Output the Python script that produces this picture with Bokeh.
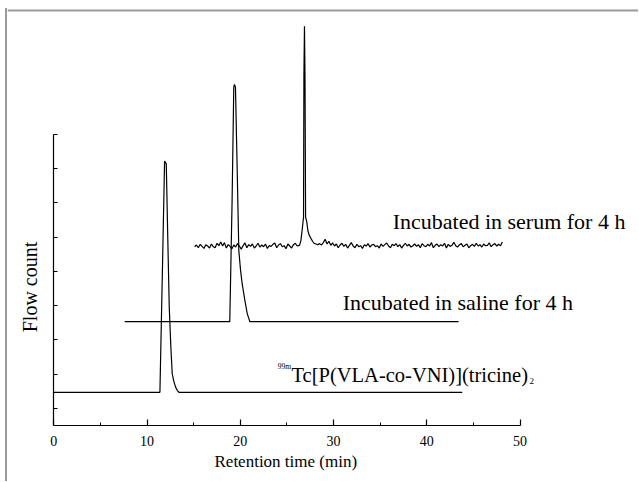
import math
from bokeh.plotting import figure
from bokeh.models import Range1d, FixedTicker, Label, Title, Span
from bokeh.embed import file_html
from bokeh.resources import INLINE

# ---------------- data ----------------
x_ticks = [0, 10, 20, 30, 40, 50]
x_minor = [5, 15, 25, 35, 45]
y_ticks = [0, 1, 2, 3, 4, 5, 6, 7, 8]

# 99mTc[P(VLA-co-VNI)](tricine)2 trace
t1_x = [0.0, 11.38, 11.63, 11.88, 12.06, 12.22, 12.38, 12.55, 12.70, 12.88, 13.06, 13.25, 13.42, 43.8]
t1_y = [0.47, 0.47, 3.80, 7.22, 7.14, 5.00, 2.96, 1.80, 1.01, 0.78, 0.62, 0.52, 0.47, 0.47]

# Incubated in saline for 4 h
t2_x = [7.6, 18.87, 19.12, 19.30, 19.37, 19.48, 19.66, 19.84, 20.02, 20.20, 20.49, 20.75, 21.03, 43.4]
t2_y = [2.53, 2.53, 6.07, 9.38, 9.46, 9.38, 7.04, 4.61, 4.05, 3.64, 3.15, 2.76, 2.53, 2.53]

# Incubated in serum for 4 h : baseline noise (before and after the peak) and the peak itself
serum_base = 4.72
serum_left_start = 15.1
serum_left = [0.00, 0.05, -0.03, 0.07, 0.01, -0.05, 0.06, 0.02, -0.04, 0.08, 0.00, -0.03, 0.10, 0.03,
              0.14, 0.02, 0.12, -0.04, 0.06, 0.01, -0.06, 0.05, -0.01, 0.09, 0.02, -0.07, 0.03, 0.11,
              -0.03, 0.06, 0.01, 0.08, -0.04, 0.02, 0.10, -0.01, 0.05, 0.00, 0.08, -0.05, 0.03, 0.01,
              0.07, 0.11, -0.03, 0.05, 0.09, 0.00, 0.03, -0.06, 0.08, 0.02, -0.04, 0.06, 0.10, 0.02, 0.04]
peak_x = [26.35, 26.50, 26.63, 26.78, 26.82, 26.88, 26.94, 27.00, 27.12, 27.25, 27.40, 27.60, 27.75]
peak_y = [4.76, 4.90, 5.20, 5.58, 9.69, 11.16, 9.60, 5.58, 5.46, 5.18, 5.05, 4.95, 4.88]
serum_right_start = 27.9
serum_right = [0.10, 0.08, 0.06, 0.09, 0.05, 0.12, 0.22, 0.08, 0.16, 0.04, 0.11, 0.02, 0.08, -0.03,
               0.05, 0.10, 0.01, 0.07, -0.04, 0.04, 0.12, 0.02, -0.03, 0.07, 0.00, 0.03, -0.05, 0.06,
               0.02, 0.09, -0.01, 0.05, 0.07, 0.00, 0.03, -0.04, 0.08, 0.01, 0.06, 0.11, 0.02, -0.03,
               0.07, 0.03, 0.09, 0.00, 0.06, -0.04, 0.04, 0.10, 0.02, 0.07, -0.01, 0.03, 0.08, 0.01,
               0.06, -0.03, 0.09, 0.03, 0.00, 0.07, 0.02, 0.12, -0.03, 0.04, 0.08, 0.00, 0.06, 0.02,
               0.10, -0.04, 0.07, 0.01, 0.04, 0.13, 0.03, -0.01, 0.06, 0.09, 0.00, 0.04, 0.08, -0.03,
               0.03, 0.07, 0.01, 0.10, 0.02, 0.06, -0.01, 0.08, 0.03, 0.04, 0.11, 0.00, 0.06, 0.09,
               0.02, 0.07, 0.03, 0.14]
step = 0.2
t3_x = ([serum_left_start + step * i for i in range(len(serum_left))] + peak_x +
        [serum_right_start + step * i for i in range(len(serum_right))])
t3_y = ([serum_base + v for v in serum_left] + peak_y + [serum_base + v for v in serum_right])

FONT = "Liberation Serif"
FRAME_GREY = "#999999"

X0, X1 = -4.965, 62.70
Y0, Y1 = -0.5, 11.675

p = figure(width=631, height=473, output_backend="svg", toolbar_location=None,
           x_range=Range1d(X0, X1), y_range=Range1d(Y0, Y1),
           min_border_left=0, min_border_right=0, min_border_top=0, min_border_bottom=56,
           margin=(8, 0, 0, 7),
           styles={"box-shadow": "-2px 0 0 0 " + FRAME_GREY})
p.grid.visible = False
p.outline_line_color = None
p.background_fill_color = "white"
p.border_fill_color = "white"

# grey rule along the top of the picture
p.add_layout(Span(location=Y1 - 0.058, dimension="width", line_color=FRAME_GREY, line_width=2))

for xs, ys in ((t1_x, t1_y), (t2_x, t2_y), (t3_x, t3_y)):
    p.line(xs, ys, line_color="black", line_width=1.2)

xa = p.xaxis[0]
xa.ticker = FixedTicker(ticks=x_ticks, minor_ticks=x_minor)
xa.bounds = (0, 50)
xa.major_tick_in = 6
xa.major_tick_out = 0
xa.minor_tick_in = 3
xa.minor_tick_out = 0
xa.major_label_standoff = 10
xa.major_label_text_font = FONT
xa.major_label_text_font_size = "14px"

ya = p.yaxis[0]
ya.fixed_location = 0
ya.ticker = FixedTicker(ticks=y_ticks, minor_ticks=[])
ya.bounds = (-0.5, 8)
ya.major_tick_in = 4
ya.major_tick_out = 0
ya.minor_tick_line_color = None
ya.major_label_overrides = {t: "" for t in y_ticks}
ya.major_label_standoff = 0

for ax in (xa, ya):
    ax.axis_line_color = "black"
    ax.axis_line_width = 1.2
    ax.major_tick_line_color = "black"
    ax.major_tick_line_width = 1.2
    ax.major_label_text_color = "black"
xa.minor_tick_line_color = "black"

# x-axis title, placed in the lower panel so it centres under the drawn 0-50 axis
p.add_layout(Title(text="Retention time (min)", align="left", offset=207, standoff=3,
                   text_font=FONT, text_font_size="17px", text_font_style="normal",
                   text_color="black"), "below")

labels = [
    dict(x=-2.5, y=3.544, text="Flow count", size="20px", align="center", base="middle", angle=math.pi / 2),
    dict(x=36.34, y=5.46, text="Incubated in serum for 4 h", size="22px", align="left", base="alphabetic", angle=0),
    dict(x=30.98, y=3.09, text="Incubated in saline for 4 h", size="22px", align="left", base="alphabetic", angle=0),
    dict(x=25.49, y=0.96, text="Tc[P(VLA-co-VNI)](tricine)", size="20.5px", align="left", base="alphabetic", angle=0),
    dict(x=25.45, y=1.21, text="99m", size="7.5px", align="right", base="alphabetic", angle=0),
    dict(x=51.0, y=0.81, text="2", size="9px", align="left", base="alphabetic", angle=0),
]
for d in labels:
    p.add_layout(Label(x=d["x"], y=d["y"], text=d["text"], text_font=FONT,
                       text_font_size=d["size"], text_align=d["align"], angle=d["angle"],
                       text_baseline=d["base"], text_color="black"))

open("out.html", "w").write(file_html(p, INLINE))
